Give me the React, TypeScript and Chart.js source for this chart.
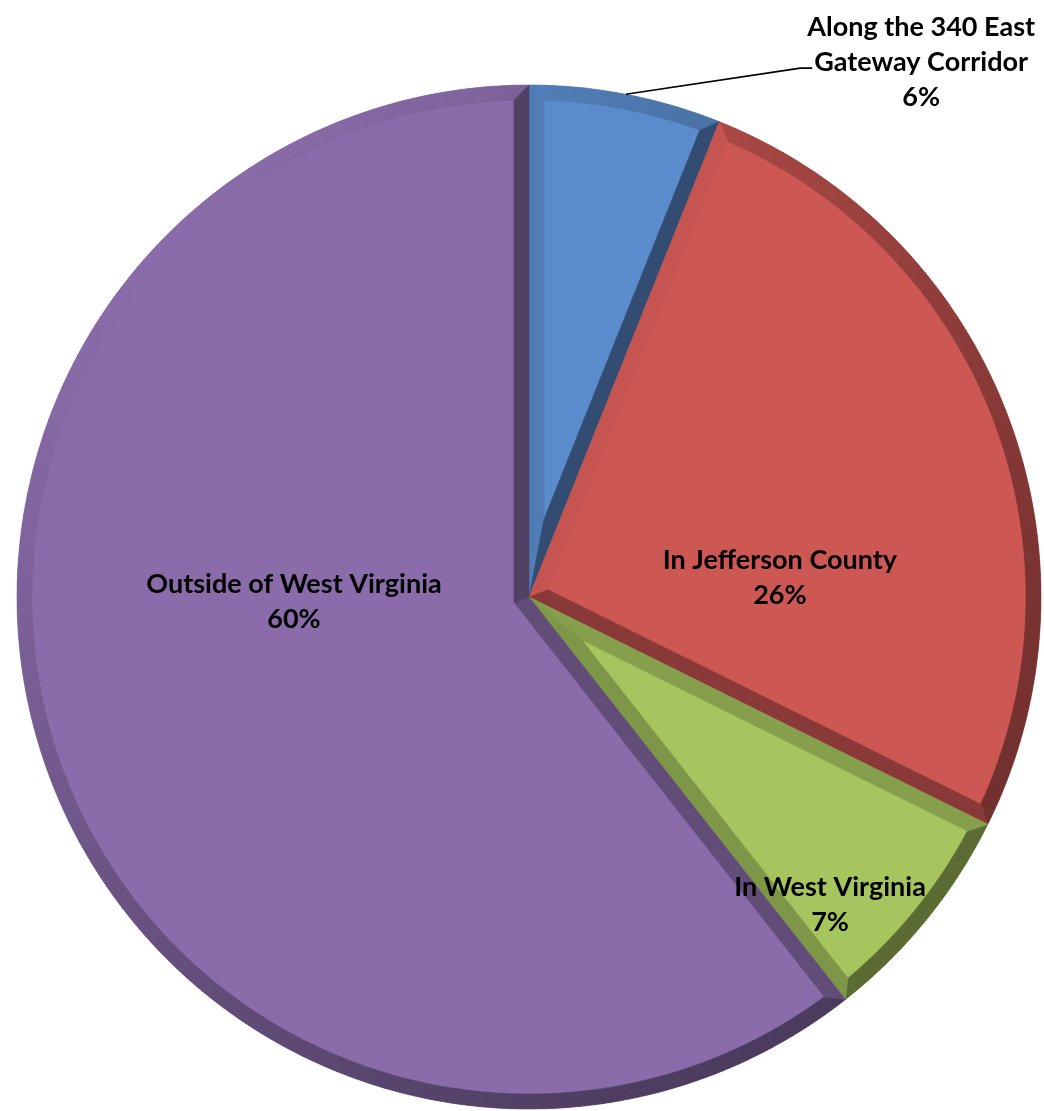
import React, { useEffect, useRef } from "react";
import { Chart, registerables } from "chart.js";

Chart.register(...registerables);

// ---- data ----
const categories = [
  "Along the 340 East Gateway Corridor",
  "In Jefferson County",
  "In West Virginia",
  "Outside of West Virginia",
];
const values = [6, 26, 7, 60];
const labelLines = [
  ["Along the 340 East", "Gateway Corridor"],
  ["In Jefferson County"],
  ["In West Virginia"],
  ["Outside of West Virginia"],
];
const colors = ["#5A8BCB", "#CD5753", "#A6C55F", "#8A6CAA"];

// ---- label placement (relative to pie centre, in units of radius) ----
const labelAnchors = [
  { dx: 0.766, dy: -1.046, leader: true },
  { dx: 0.49, dy: -0.039, leader: false },
  { dx: 0.588, dy: 0.599, leader: false },
  { dx: -0.459, dy: 0.008, leader: false },
];

const FONT_SIZE = 27;
const FONT = `bold ${FONT_SIZE}px Lato`;
const LINE_H = 35;
const CAP_H = 0.72 * FONT_SIZE;
const BEVEL = 15;

function hexToRgb(h: string) {
  const n = parseInt(h.slice(1), 16);
  return [(n >> 16) & 255, (n >> 8) & 255, n & 255];
}
function shade(hex: string, dot: number) {
  const d = 0.46 * Math.pow(Math.max(0, (1 - dot) / 2), 0.8);
  const [r, g, b] = hexToRgb(hex);
  const f = 1 - d;
  return `rgb(${Math.round(r * f)},${Math.round(g * f)},${Math.round(b * f)})`;
}
const LX = -Math.SQRT1_2;
const LY = -Math.SQRT1_2;

const bevelPlugin = {
  id: "bevel",
  afterDatasetsDraw(chart: any) {
    const ctx = chart.ctx;
    const meta = chart.getDatasetMeta(0);
    meta.data.forEach((arc: any, i: number) => {
      const { x, y, startAngle, endAngle, outerRadius } = arc.getProps(
        ["x", "y", "startAngle", "endAngle", "outerRadius"],
        true
      );
      const a1 = startAngle;
      const a2 = endAngle;
      const R = outerRadius;
      const w = BEVEL;
      const base = colors[i];
      const th = a2 - a1;
      const m = (a1 + a2) / 2;
      const ad = w / Math.sin(th / 2);
      const apex = [x + Math.cos(m) * ad, y + Math.sin(m) * ad];
      const t = Math.sqrt((R - w) * (R - w) - w * w);
      const tan1 = [-Math.sin(a1), Math.cos(a1)];
      const tan2 = [-Math.sin(a2), Math.cos(a2)];
      const in1 = [x + t * Math.cos(a1) + w * tan1[0], y + t * Math.sin(a1) + w * tan1[1]];
      const in2 = [x + t * Math.cos(a2) - w * tan2[0], y + t * Math.sin(a2) - w * tan2[1]];
      const out1 = [x + R * Math.cos(a1), y + R * Math.sin(a1)];
      const out2 = [x + R * Math.cos(a2), y + R * Math.sin(a2)];
      const da = Math.asin(w / (R - w));
      const b1 = a1 + da;
      const b2 = a2 - da;

      const poly = (pts: number[][], col: string) => {
        ctx.beginPath();
        ctx.moveTo(pts[0][0], pts[0][1]);
        for (let k = 1; k < pts.length; k++) ctx.lineTo(pts[k][0], pts[k][1]);
        ctx.closePath();
        ctx.fillStyle = col;
        ctx.fill();
        ctx.strokeStyle = col;
        ctx.lineWidth = 0.6;
        ctx.stroke();
      };
      ctx.save();
      // rim
      const N = Math.max(4, Math.ceil((th * 180) / Math.PI));
      for (let k = 0; k < N; k++) {
        const o0 = a1 + (th * k) / N;
        const o1 = a1 + (th * (k + 1)) / N;
        const i0 = b1 + ((b2 - b1) * k) / N;
        const i1 = b1 + ((b2 - b1) * (k + 1)) / N;
        const mid = (o0 + o1) / 2;
        const dot = Math.cos(mid) * LX + Math.sin(mid) * LY;
        ctx.beginPath();
        ctx.arc(x, y, R, o0, o1);
        ctx.arc(x, y, R - w, i1, i0, true);
        ctx.closePath();
        const col = shade(base, dot);
        ctx.fillStyle = col;
        ctx.fill();
        ctx.strokeStyle = col;
        ctx.lineWidth = 0.6;
        ctx.stroke();
      }
      // start radial edge
      const n1 = [Math.sin(a1), -Math.cos(a1)];
      poly([[x, y], out1, in1, apex], shade(base, n1[0] * LX + n1[1] * LY));
      // end radial edge
      const n2 = [-Math.sin(a2), Math.cos(a2)];
      poly([[x, y], out2, in2, apex], shade(base, n2[0] * LX + n2[1] * LY));
      ctx.restore();
    });
  },
};

const labelPlugin = {
  id: "pieLabels",
  afterDraw(chart: any) {
    const ctx = chart.ctx;
    const meta = chart.getDatasetMeta(0);
    ctx.save();
    ctx.font = FONT;
    ctx.fillStyle = "#000000";
    ctx.textAlign = "center";
    ctx.textBaseline = "alphabetic";
    meta.data.forEach((arc: any, i: number) => {
      const { x, y, startAngle, endAngle, outerRadius } = arc.getProps(
        ["x", "y", "startAngle", "endAngle", "outerRadius"],
        true
      );
      const anc = labelAnchors[i];
      const lines = [...labelLines[i], `${Math.round(values[i])}%`];
      const cx = x + anc.dx * outerRadius;
      const cy = y + anc.dy * outerRadius;
      const n = lines.length;
      const baselines = lines.map((_, k) => cy + (k - (n - 1) / 2) * LINE_H + CAP_H / 2);
      lines.forEach((ln, k) => ctx.fillText(ln, cx, baselines[k]));
      if (anc.leader) {
        const mid = (startAngle + endAngle) / 2;
        const sx = x + outerRadius * Math.cos(mid);
        const sy = y + outerRadius * Math.sin(mid);
        const w2 = ctx.measureText(lines[1]).width;
        const ex = cx - w2 / 2 - 2;
        const ey = baselines[1] - 3;
        ctx.beginPath();
        ctx.moveTo(sx, sy);
        ctx.lineTo(ex - 12, ey);
        ctx.lineTo(ex, ey);
        ctx.strokeStyle = "#000000";
        ctx.lineWidth = 1.6;
        ctx.stroke();
      }
    });
    ctx.restore();
  },
};

export default function App() {
  const ref = useRef<HTMLCanvasElement | null>(null);
  useEffect(() => {
    if (!ref.current) return;
    const chart = new Chart(ref.current, {
      type: "pie",
      data: {
        labels: categories,
        datasets: [
          {
            data: values,
            backgroundColor: colors,
            borderWidth: 0,
            hoverOffset: 0,
          },
        ],
      },
      options: {
        responsive: false,
        animation: false,
        devicePixelRatio: 1,
        events: [],
        layout: { padding: { left: 17, right: 3, top: 85, bottom: 2 } },
        plugins: {
          legend: { display: false },
          tooltip: { enabled: false },
        },
      },
      plugins: [bevelPlugin, labelPlugin],
    });
    return () => chart.destroy();
  }, []);
  return (
    <div style={{ position: "absolute", left: 0, top: 0, width: 1044, height: 1111, background: "#ffffff" }}>
      <canvas ref={ref} width={1044} height={1111} style={{ display: "block" }} />
    </div>
  );
}
